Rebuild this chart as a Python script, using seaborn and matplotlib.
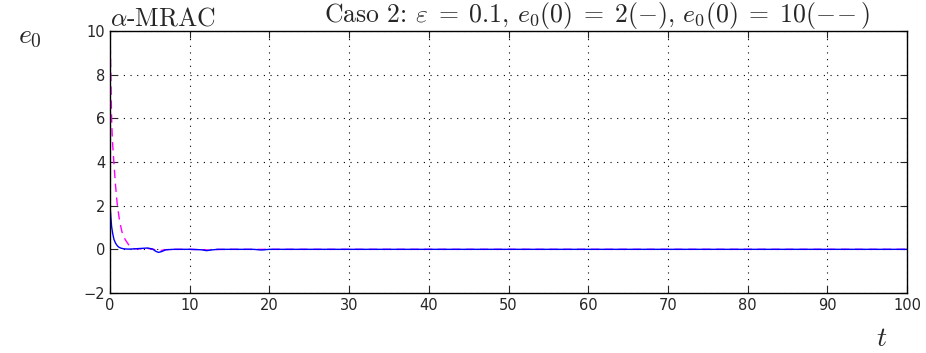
import numpy as np
import pandas as pd
import matplotlib
matplotlib.use("Agg")
import matplotlib.pyplot as plt
import seaborn as sns

# values
t_blue = [0, 0.1, 0.2, 0.35, 0.5, 0.7, 0.9, 1.1, 1.4, 1.8, 2.3, 3.0, 3.8, 4.7, 5.3, 5.8, 6.1, 6.5, 7.0, 8.0, 10.0, 11.5, 12.1, 12.7, 13.5, 15.0, 18.0, 19.0, 20.0, 22.0, 25.0, 30.0, 40.0, 50.0, 60.0, 70.0, 80.0, 90.0, 100.0]
e_blue = [2.0, 1.5, 1.05, 0.7, 0.45, 0.28, 0.17, 0.1, 0.05, 0.02, 0.01, 0.02, 0.04, 0.06, 0.02, -0.1, -0.14, -0.1, -0.02, 0.0, 0.0, -0.02, -0.06, -0.03, 0.0, 0.0, 0.0, -0.03, 0.0, 0.0, 0.0, 0.0, 0.0, 0.0, 0.0, 0.0, 0.0, 0.0, 0.0]

t_mag = [0, 0.05, 0.1, 0.2, 0.3, 0.5, 0.7, 0.9, 1.2, 1.5, 1.9, 2.5, 3.0, 4.0, 4.7, 5.5, 6.1, 6.8, 8.0, 10.0, 12.0, 12.5, 13.0, 15.0, 20.0, 30.0, 40.0, 50.0, 60.0, 70.0, 80.0, 90.0, 100.0]
e_mag = [10.0, 9.0, 8.0, 6.0, 5.0, 3.9, 2.9, 2.1, 1.3, 0.8, 0.45, 0.12, 0.03, 0.02, 0.04, 0.0, -0.08, -0.02, 0.0, 0.0, -0.02, -0.04, -0.01, 0.0, 0.0, 0.0, 0.0, 0.0, 0.0, 0.0, 0.0, 0.0, 0.0]

sns.set_style("ticks")
plt.rcParams['font.family'] = ['DejaVu Sans']
plt.rcParams['mathtext.fontset'] = 'cm'

fig = plt.figure(figsize=(9.26, 3.53), dpi=100)
ax = fig.add_axes([110 / 926, 1 - 293 / 353, 797 / 926, 262 / 353])

sns.lineplot(x=t_mag, y=e_mag, ax=ax, color='magenta', linewidth=1.0, linestyle=(0, (6, 4)))
sns.lineplot(x=t_blue, y=e_blue, ax=ax, color='blue', linewidth=1.0)

ax.set_xlim(0, 100)
ax.set_ylim(-2, 10)
ax.set_xticks(np.arange(0, 101, 10))
ax.set_yticks(np.arange(-2, 11, 2))
ax.tick_params(direction='in', length=5, labelsize=10.5, top=True, right=True, width=0.8)
ax.grid(True, linestyle=(0, (1, 5)), color='black', linewidth=0.8)
for s in ax.spines.values():
    s.set_linewidth(1.0)
    s.set_color('black')

ax.text(0.0, 1.0, r'$\alpha$-MRAC', transform=ax.transAxes, ha='left', va='bottom',
        fontsize=18.5, family='cmr10')
ax.text(0.954, 1.0,
        r'Caso 2: $\varepsilon\;=\;0.1$, $e_0(0)\;=\;2(-)$, $e_0(0)\;=\;10(-\!-)$',
        transform=ax.transAxes, ha='right', va='bottom', fontsize=18.5, family='cmr10')
fig.text(30 / 926, 1 - 36 / 353, r'$e_0$', fontsize=20, ha='center', va='center')
fig.text(882 / 926, 1 - 338 / 353, r'$t$', fontsize=20, ha='center', va='center')

fig.savefig('out.png', dpi=100)
